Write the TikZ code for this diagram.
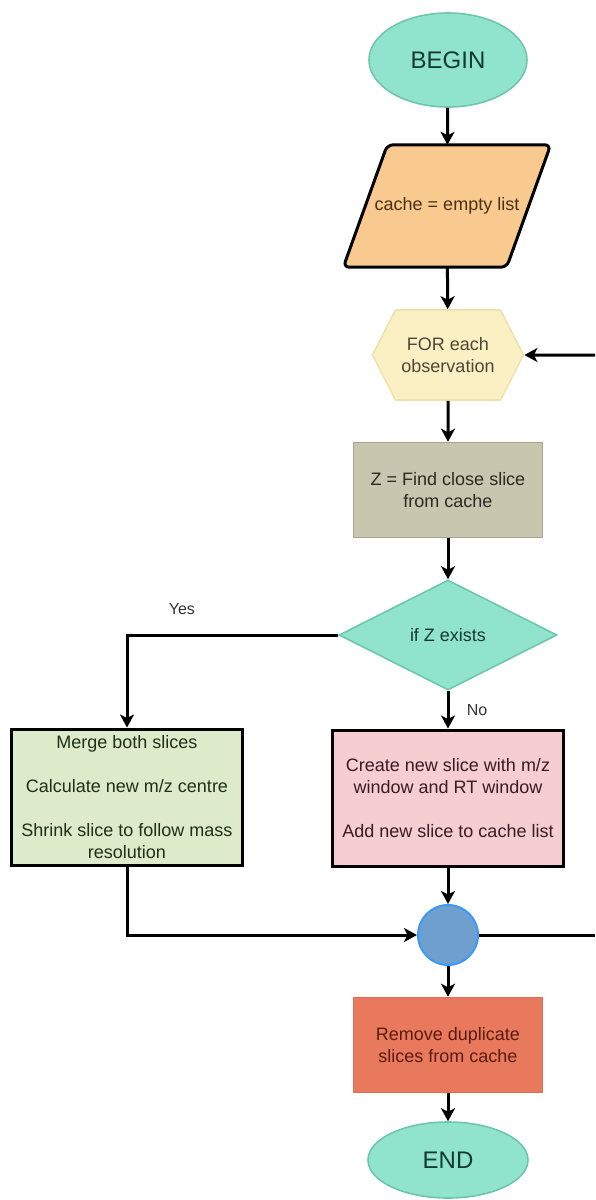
\documentclass[tikz,border=0pt]{standalone}
\usepackage{fontspec}
\setmainfont{Liberation Sans}
\usetikzlibrary{arrows.meta,shapes.geometric,shapes.symbols,backgrounds}
\definecolor{mint}{HTML}{90E4CD}
\definecolor{mintline}{HTML}{6FC6AB}
\definecolor{minttext}{HTML}{133A30}
\definecolor{sand}{HTML}{F9CA8F}
\definecolor{sandtext}{HTML}{4A3014}
\definecolor{cream}{HTML}{FAF0C4}
\definecolor{creamline}{HTML}{EFE2AC}
\definecolor{creamtext}{HTML}{4E4636}
\definecolor{khaki}{HTML}{C8C6AF}
\definecolor{khakiline}{HTML}{A6A58C}
\definecolor{khakitext}{HTML}{2A2A20}
\definecolor{sage}{HTML}{DDEBCA}
\definecolor{sagetext}{HTML}{1E3018}
\definecolor{blush}{HTML}{F6CDD1}
\definecolor{blushtext}{HTML}{3A1C1E}
\definecolor{steel}{HTML}{6E9FCE}
\definecolor{skyline}{HTML}{3D9AF2}
\definecolor{coral}{HTML}{E9795C}
\definecolor{coralline}{HTML}{DE6F55}
\definecolor{coraltext}{HTML}{5A1C10}

\begin{document}
\begin{tikzpicture}[x=1pt,y=-1pt,
  every node/.style={font=\fontsize{18}{22}\selectfont,align=center},
  flow/.style={line width=3pt,-{Stealth[length=13pt,width=14pt,inset=3.5pt]}},
  plain/.style={line width=3pt},
  terminal/.style={ellipse,fill=mint,draw=mintline,line width=1.6pt,minimum width=158pt,text=minttext,font=\fontsize{24}{28}\selectfont},
  block/.style={rectangle,minimum width=189pt,minimum height=95pt,line width=1.6pt},
  outlined/.style={rectangle,draw=black,line width=3pt,minimum width=231pt,minimum height=136pt,inner sep=2pt},
  tag/.style={font=\fontsize{16}{19}\selectfont,text=black!80}]
  \useasboundingbox (0,0) rectangle (595,1200);

  \node[terminal,minimum height=94pt] (begin) at (448,60) {BEGIN};
  \node[minimum width=207pt,minimum height=122pt,text=sandtext] (init) at (447,206) {cache = empty list};
  \node[signal,signal to=west and east,signal pointer angle=126,minimum width=151pt,minimum height=90pt,
        fill=cream,draw=creamline,line width=1.6pt,text=creamtext] (loop) at (448,355) {FOR each\\observation};
  \node[block,fill=khaki,draw=khakiline,text=khakitext] (find) at (448,490) {Z = Find close slice\\from cache};
  \node[diamond,aspect=2,minimum width=218pt,minimum height=110pt,fill=mint,draw=mintline,
        line width=1.6pt,text=minttext] (test) at (448,635) {if Z exists};
  \node[outlined,fill=sage,text=sagetext] (merge) at (127,797)
        {Merge both slices\\[22pt]Calculate new m/z centre\\[22pt]Shrink slice to follow mass\\resolution};
  \node[outlined,fill=blush,text=blushtext] (create) at (448,798)
        {Create new slice with m/z\\window and RT window\\[22pt]Add new slice to cache list};
  \node[circle,minimum size=60pt,fill=steel,draw=skyline,line width=2pt] (join) at (448,935) {};
  \node[block,fill=coral,draw=coralline,text=coraltext] (prune) at (448,1045) {Remove duplicate\\slices from cache};
  \node[terminal,minimum height=76pt,minimum width=160pt] (end) at (448,1160) {END};

  % slanted input box behind its text
  \begin{scope}[on background layer]
    \path[draw=black,fill=sand,line width=3pt,rounded corners=6pt]
      (init.south west) -- ([xshift=44pt]init.north west) -- (init.north east)
      -- ([xshift=-44pt]init.south east) -- cycle;
  \end{scope}

  % loop-back ends at the page edge
  \coordinate (backin) at (595,355);
  \coordinate (backout) at (595,935);

  \draw[flow] (begin) -- (init);
  \draw[flow] (init) -- (loop);
  \draw[flow] (backin) -- (loop);
  \draw[flow] (loop) -- (find);
  \draw[flow] (find) -- (test);
  \draw[flow] (test.west) -| node[tag,pos=0.37,above=16pt] {Yes} (merge.north);
  \draw[flow] (test) -- node[tag,right=14pt] {No} (create);
  \draw[flow] (create) -- (join);
  \draw[flow] (merge) |- (join);
  \draw[plain] (join) -- (backout);
  \draw[flow] (join) -- (prune);
  \draw[flow] (prune) -- (end);
\end{tikzpicture}
\end{document}
